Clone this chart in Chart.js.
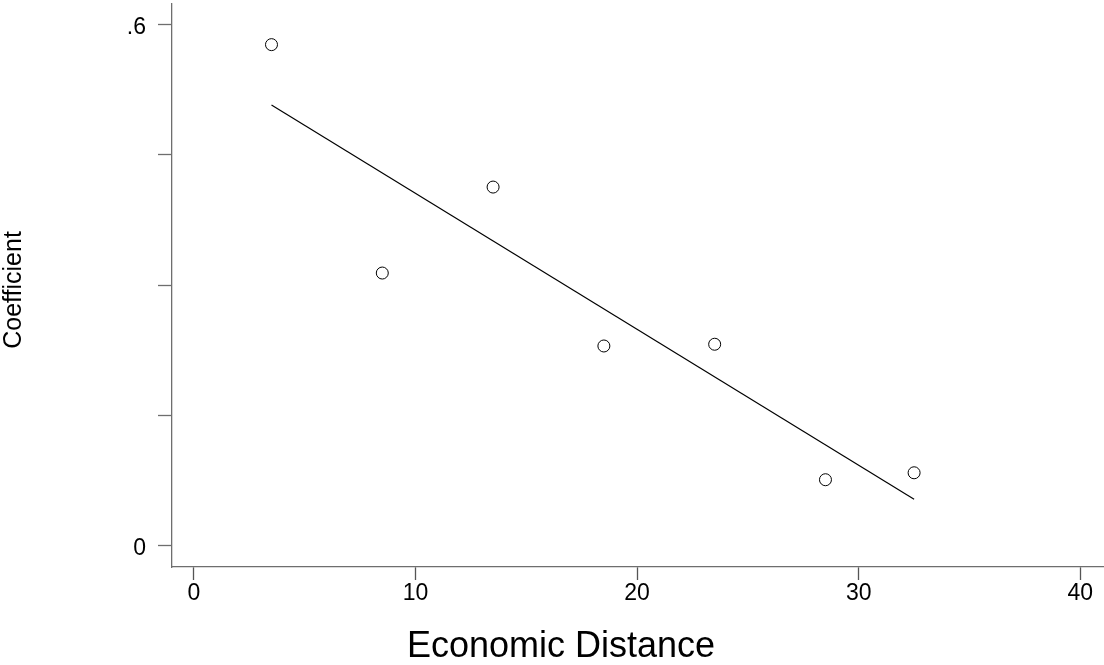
<!DOCTYPE html>
<html>
<head>
<meta charset="utf-8">
<title>Coefficient vs Economic Distance</title>
<script src="https://cdn.jsdelivr.net/npm/chart.js@4.4.1/dist/chart.umd.min.js"></script>
<style>
  html, body { margin: 0; padding: 0; background: #ffffff; }
  #wrap { width: 1104px; height: 665px; position: relative; }
</style>
</head>
<body>
<div id="wrap"><canvas id="scatterChart"></canvas></div>
<script>
// Data
const distance = [3.5, 8.5, 13.5, 18.5, 23.5, 28.5, 32.5];
const coefficient = [0.577, 0.314, 0.413, 0.230, 0.232, 0.076, 0.084];

// fitted line end points
const fitX = [3.5, 32.5];
const fitY = [0.5075, 0.0534];

const xTicks = [0, 10, 20, 30, 40];
const yTicks = [0, 0.15, 0.3, 0.45, 0.6];
const yTickLabels = { 0: '0', 0.6: '.6' };

const xTitle = 'Economic Distance';
const yTitle = 'Coefficient';

let scatterChart;

// axis titles drawn by hand so they sit where Stata put them
const titlesPlugin = {
  id: 'titles',
  afterDraw(chart) {
    const ctx = chart.ctx;
    ctx.save();
    ctx.fillStyle = '#000000';
    ctx.font = "36px 'Liberation Sans', Arial, sans-serif";
    ctx.textAlign = 'center';
    ctx.textBaseline = 'alphabetic';
    ctx.fillText(xTitle, 561, 657);

    ctx.font = "25px 'Liberation Sans', Arial, sans-serif";
    ctx.translate(14, 290);
    ctx.rotate(-Math.PI / 2);
    ctx.textBaseline = 'middle';
    ctx.fillText(yTitle, 0, 0);
    ctx.restore();
  }
};

document.addEventListener('DOMContentLoaded', function () {
  const ctx = document.getElementById('scatterChart').getContext('2d');

  scatterChart = new Chart(ctx, {
    type: 'scatter',
    data: {
      datasets: [
        {
          label: 'Coefficient',
          data: distance.map((x, i) => ({ x: x, y: coefficient[i] })),
          pointStyle: 'circle',
          pointRadius: 6,
          pointHoverRadius: 6,
          pointBackgroundColor: '#ffffff',
          pointBorderColor: '#000000',
          pointBorderWidth: 1,
          showLine: false,
          order: 1
        },
        {
          label: 'Fitted values',
          type: 'line',
          data: fitX.map((x, i) => ({ x: x, y: fitY[i] })),
          borderColor: '#000000',
          borderWidth: 1.2,
          pointRadius: 0,
          fill: false,
          tension: 0,
          order: 2
        }
      ]
    },
    options: {
      responsive: true,
      maintainAspectRatio: false,
      animation: false,
      layout: { autoPadding: false, padding: { top: 4, right: 0, bottom: 0, left: 0 } },
      plugins: {
        legend: { display: false },
        tooltip: { enabled: false }
      },
      scales: {
        x: {
          type: 'linear',
          min: -0.99,
          max: 41.07,
          afterFit: (scale) => {
            scale.height = 98;
            scale.paddingLeft = 0;
            scale.paddingRight = 0;
          },
          afterBuildTicks: (scale) => { scale.ticks = xTicks.map(v => ({ value: v })); },
          border: { display: true, color: '#6e6e6e', width: 1.3 },
          grid: {
            display: true,
            drawOnChartArea: false,
            drawTicks: true,
            tickLength: 13,
            tickColor: '#555555',
            tickWidth: 1.3
          },
          ticks: {
            color: '#000000',
            padding: 0,
            maxRotation: 0,
            font: { size: 23, family: "'Liberation Sans', Arial, sans-serif" },
            callback: (v) => String(v)
          }
        },
        y: {
          type: 'linear',
          min: -0.0245,
          max: 0.6238,
          afterFit: (scale) => {
            scale.width = 172;
            scale.paddingTop = 0;
            scale.paddingBottom = 0;
          },
          afterBuildTicks: (scale) => { scale.ticks = yTicks.map(v => ({ value: v })); },
          border: { display: true, color: '#6e6e6e', width: 1.3 },
          grid: {
            display: true,
            drawOnChartArea: false,
            drawTicks: true,
            tickLength: 14,
            tickColor: '#6e6e6e',
            tickWidth: 1.3
          },
          ticks: {
            color: '#000000',
            padding: 12,
            labelOffset: 3,
            font: { size: 23, family: "'Liberation Sans', Arial, sans-serif" },
            callback: (v) => yTickLabels[v] !== undefined ? yTickLabels[v] : ''
          }
        }
      }
    },
    plugins: [titlesPlugin]
  });
});
</script>
</body>
</html>
